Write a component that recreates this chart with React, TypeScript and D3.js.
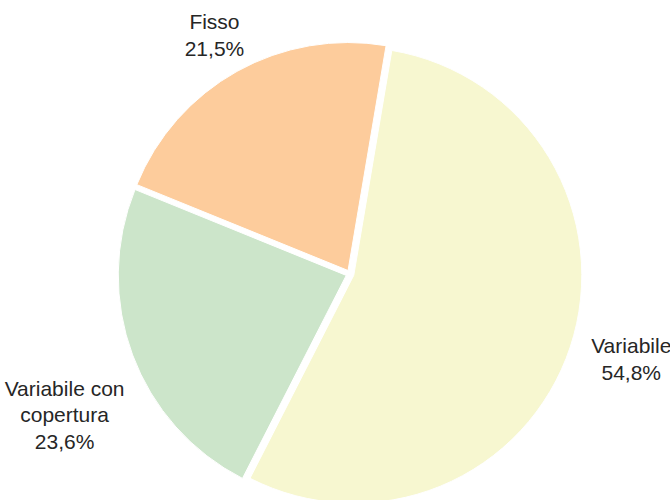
import React from "react";
import * as d3 from "d3";

const categories = ["Variabile", "Variabile con copertura", "Fisso"];
const labelLines = [["Variabile"], ["Variabile con", "copertura"], ["Fisso"]];
const values = [54.8, 23.6, 21.5];
const colors = ["#f7f7d0", "#cce5ca", "#fdcc9c"];

const W = 670;
const H = 500;
const CX = 350;
const CY = 274;
const R = 228;
const EXPLODE = 4;
const START = (9.6 * Math.PI) / 180;
const FONT = 21;
const LH = 26.5;
const GAP = 20;
// fine placement of labels relative to computed spot
const NUDGE: [number, number][] = [
  [1, 6],
  [11, 48],
  [-2, 8],
];

export default function App() {
  const pie = d3
    .pie<number>()
    .sort(null)
    .value((d) => d)
    .startAngle(START)
    .endAngle(START + 2 * Math.PI);
  const arcs = pie(values);
  const arc = d3.arc<d3.PieArcDatum<number>>().innerRadius(0).outerRadius(R);
  const fmt = (v: number) => v.toFixed(1).replace(".", ",") + "%";

  return (
    <svg
      width={W}
      height={H}
      style={{
        position: "absolute",
        left: 0,
        top: 0,
        background: "#fff",
        fontFamily: "'Liberation Sans', Arial, sans-serif",
      }}
    >
      <g transform={`translate(${CX},${CY})`}>
        {arcs.map((a, i) => {
          const mid = (a.startAngle + a.endAngle) / 2;
          const ux = Math.sin(mid);
          const uy = -Math.cos(mid);
          return (
            <path
              key={categories[i]}
              d={arc(a) || ""}
              transform={`translate(${ux * EXPLODE},${uy * EXPLODE})`}
              fill={colors[i]}
              stroke="#fff"
              strokeWidth={1}
            />
          );
        })}
        {arcs.map((a, i) => {
          const mid = (a.startAngle + a.endAngle) / 2;
          const ux = Math.sin(mid);
          const uy = -Math.cos(mid);
          const lines = [...labelLines[i], fmt(values[i])];
          const w = d3.max(lines, (l) => l.length * FONT * 0.5) || 0;
          const h = lines.length * LH;
          const ax = ux * (R + GAP);
          const ay = uy * (R + GAP);
          const bx = ax + (ux * w) / 2 + NUDGE[i][0];
          const by = ay + (uy * h) / 2 + NUDGE[i][1];
          const first = by - ((lines.length - 1) / 2) * LH;
          return (
            <text
              key={"l" + categories[i]}
              x={bx}
              y={first}
              textAnchor="middle"
              fontSize={FONT}
              fill="#262626"
            >
              {lines.map((l, j) => (
                <tspan key={j} x={bx} y={first + j * LH}>
                  {l}
                </tspan>
              ))}
            </text>
          );
        })}
      </g>
    </svg>
  );
}
